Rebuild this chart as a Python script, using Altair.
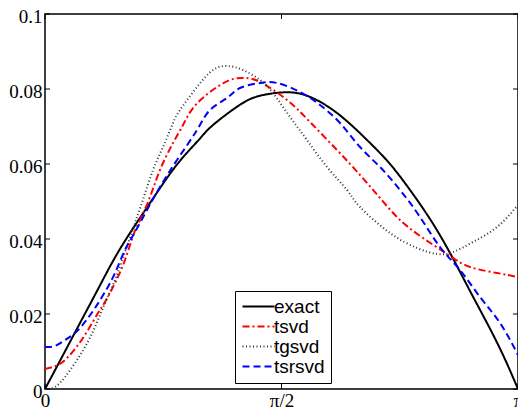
import math
import altair as alt
import pandas as pd

PI = math.pi

series_names = ["exact", "tsvd", "tgsvd", "tsrsvd"]
series_colors = ["#000000", "#ff0000", "#333333", "#0000ff"]
series_dash = [[1, 0], [7, 3, 2, 3], [1, 2.5], [7, 4]]
series_width = [2, 2, 1, 2]

exact_x = [0, 0.1129, 0.2325, 0.3454, 0.4517, 0.5646, 0.6974, 0.8103, 0.9166, 1.0295,
           1.1159, 1.2952, 1.4281, 1.5808, 1.7402, 1.9395, 2.1388, 2.2915, 2.4244,
           2.5572, 2.6901, 2.8229, 2.9358, 3.0421, 3.1416]
exact_y = [0, 0.00853, 0.0176, 0.02613, 0.03413, 0.0416, 0.0496, 0.05627, 0.0618, 0.0668,
           0.0704, 0.0758, 0.0782, 0.0791, 0.0782, 0.0736, 0.0664, 0.06, 0.05307,
           0.04533, 0.03627, 0.02613, 0.0176, 0.00907, 0]

tsvd_x = [0, 0.0863, 0.1528, 0.2192, 0.2856, 0.3520, 0.3985, 0.4649, 0.5314, 0.5845,
          0.6310, 0.6974, 0.7638, 0.8502, 0.9166, 0.9830, 1.0959, 1.2288, 1.3284, 1.4281,
          1.6074, 1.7602, 1.9395, 2.0923, 2.2251, 2.3579, 2.5107, 2.6901, 2.8229,
          3.0022, 3.1416]
tsvd_y = [0.00533, 0.0064, 0.00853, 0.01173, 0.01573, 0.02027, 0.0232, 0.02827, 0.0344,
          0.0408, 0.04507, 0.0512, 0.0584, 0.0656, 0.0704, 0.07493, 0.0792, 0.0824,
          0.08293, 0.08187, 0.07707, 0.0712, 0.06373, 0.05707, 0.05093, 0.04507,
          0.04027, 0.03547, 0.03253, 0.03093, 0.02987]

tgsvd_x = [0, 0.0664, 0.1328, 0.1993, 0.2657, 0.3321, 0.3985, 0.4649, 0.5314, 0.5779,
           0.6111, 0.6509, 0.7173, 0.7838, 0.8502, 0.8967, 1.0096, 1.1159, 1.2089,
           1.3151, 1.4281, 1.5144, 1.6273, 1.7402, 1.8731, 2.0059, 2.0923, 2.2915,
           2.4709, 2.6037, 2.7100, 2.8428, 3.0022, 3.1416]
tgsvd_y = [0, 0.00053, 0.0032, 0.00693, 0.0112, 0.01653, 0.02293, 0.02907, 0.03653,
           0.04187, 0.04587, 0.0505, 0.0584, 0.06453, 0.07093, 0.0744, 0.08053,
           0.08507, 0.08613, 0.08507, 0.0824, 0.07893, 0.07253, 0.0664, 0.0592,
           0.05307, 0.04853, 0.0416, 0.0376, 0.036, 0.03653, 0.0392, 0.0432, 0.04907]

tsrsvd_x = [0, 0.0664, 0.1328, 0.1993, 0.2657, 0.3321, 0.3985, 0.4649, 0.5314, 0.5978,
            0.6775, 0.7638, 0.8768, 1.0096, 1.0959, 1.2089, 1.2952, 1.4281, 1.5410,
            1.6937, 1.8266, 1.9594, 2.0923, 2.2251, 2.3579, 2.4908, 2.6236, 2.7565,
            2.8893, 3.0222, 3.1416]
tsrsvd_y = [0.0112, 0.01147, 0.01307, 0.01493, 0.01787, 0.0216, 0.02587, 0.03093,
            0.03707, 0.04187, 0.04773, 0.05387, 0.06107, 0.06907, 0.0744, 0.0776,
            0.08027, 0.0816, 0.0816, 0.0792, 0.07573, 0.07093, 0.06453, 0.0592,
            0.05307, 0.04587, 0.03787, 0.03173, 0.02453, 0.0176, 0.00907]

y_ticks = [0, 0.02, 0.04, 0.06, 0.08, 0.1]
x_ticks = [0, PI / 2, PI]

rows = []
for name, xs_, ys_ in [("exact", exact_x, exact_y), ("tsvd", tsvd_x, tsvd_y),
                       ("tgsvd", tgsvd_x, tgsvd_y), ("tsrsvd", tsrsvd_x, tsrsvd_y)]:
    for i, (a, b) in enumerate(zip(xs_, ys_)):
        rows.append({"series": name, "x": a, "y": b, "order": i})
df = pd.DataFrame(rows)

W, H = 473, 375
TL = 5
SERIF = "Liberation Serif, Times New Roman, DejaVu Serif, serif"

xscale = alt.Scale(domain=[0, PI], nice=False, zero=False)
yscale = alt.Scale(domain=[0, 0.1], nice=False, zero=False)

x_axis = alt.Axis(values=x_ticks, ticks=False, domain=False, grid=False, title=None,
                  labelExpr="datum.value < 0.1 ? '0' : (datum.value < 2 ? 'π/2' : 'π')",
                  labelPadding=2, labelFont=SERIF, labelFontSize=19,
                  labelColor="black", labelFlush=False, labelOverlap=False)
y_axis = alt.Axis(values=y_ticks, ticks=False, domain=False, grid=False, title=None,
                  format=".2~f", labelPadding=3, labelOffset=2, labelFont=SERIF,
                  labelFontSize=19, labelColor="black", labelFlush=False, labelOverlap=False)

lines = alt.Chart(df).mark_line(interpolate="natural", clip=True).encode(
    x=alt.X("x:Q", scale=xscale, axis=x_axis),
    y=alt.Y("y:Q", scale=yscale, axis=y_axis),
    color=alt.Color("series:N", scale=alt.Scale(domain=series_names, range=series_colors),
                    legend=alt.Legend(title=None)),
    strokeDash=alt.StrokeDash("series:N", scale=alt.Scale(domain=series_names, range=series_dash),
                              legend=alt.Legend(title=None)),
    strokeWidth=alt.StrokeWidth("series:N", scale=alt.Scale(domain=series_names, range=series_width),
                                legend=alt.Legend(title=None)),
    order="order:Q",
)

ytick_df = pd.DataFrame({"x": [0] * len(y_ticks), "y": y_ticks})
xtick_df = pd.DataFrame({"x": x_ticks, "y": [0] * len(x_ticks)})

left_ticks = alt.Chart(ytick_df).mark_rule(color="black", strokeWidth=1).encode(
    y=alt.Y("y:Q", scale=yscale, axis=y_axis), x=alt.value(0), x2=alt.value(TL))
right_ticks = alt.Chart(ytick_df).mark_rule(color="black", strokeWidth=1).encode(
    y=alt.Y("y:Q", scale=yscale, axis=y_axis), x=alt.value(W - TL), x2=alt.value(W))
bottom_ticks = alt.Chart(xtick_df).mark_rule(color="black", strokeWidth=1).encode(
    x=alt.X("x:Q", scale=xscale, axis=x_axis), y=alt.value(H), y2=alt.value(H - TL))
top_ticks = alt.Chart(xtick_df).mark_rule(color="black", strokeWidth=1).encode(
    x=alt.X("x:Q", scale=xscale, axis=x_axis), y=alt.value(0), y2=alt.value(TL))

chart = alt.layer(lines, left_ticks, right_ticks, bottom_ticks, top_ticks).properties(
    width=W, height=H,
    autosize=alt.AutoSizeParams(type="none"),
    padding={"left": 37, "top": 6, "right": 0, "bottom": 24},
    background="white",
).configure_view(stroke="black", strokeWidth=1.5).configure_legend(
    orient="none", legendX=190, legendY=277, strokeColor="black", fillColor="white",
    padding=6, symbolType="M-1,0L3,0", symbolSize=256, symbolStrokeWidth=2,
    labelFont="Liberation Sans, Arial, Helvetica, sans-serif", labelFontSize=19,
    labelColor="black", rowPadding=0, labelOffset=14,
)

chart.save("out.html", embed_options={"renderer": "svg", "actions": False})
